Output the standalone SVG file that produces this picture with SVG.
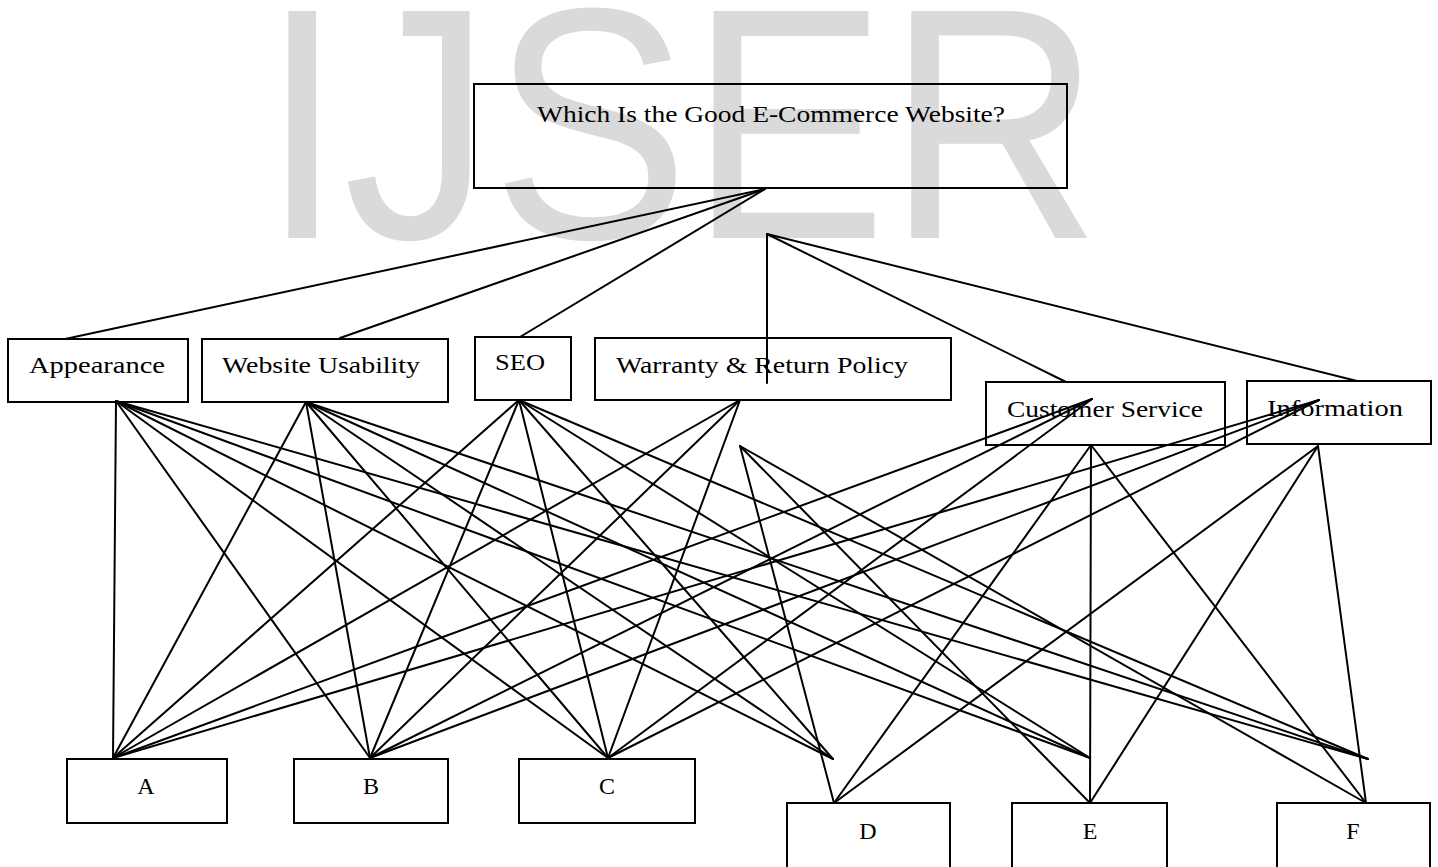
<svg xmlns="http://www.w3.org/2000/svg" width="1438" height="867" viewBox="0 0 1438 867">
<style>
.box{fill:none;stroke:#000;stroke-width:2}
.lbl{font-family:"Liberation Serif",serif;font-size:24px;fill:#000}
.ltr{font-family:"Liberation Serif",serif;font-size:24px;fill:#000;text-anchor:middle}
.wm{font-family:"Liberation Sans",Arial,sans-serif;font-size:330px;fill:#dadada}
#connectors line{stroke:#000;stroke-width:2;stroke-linecap:round}
</style>
<rect x="0" y="0" width="1438" height="867" fill="#fff"/>
<text class="wm" x="261" y="238" textLength="840" lengthAdjust="spacingAndGlyphs">IJSER</text>
<g id="connectors">
<line x1="765" y1="189" x2="65" y2="339"/>
<line x1="765" y1="189" x2="340" y2="338"/>
<line x1="765" y1="189" x2="520" y2="337"/>
<line x1="767" y1="234" x2="767" y2="383"/>
<line x1="767" y1="234" x2="1066" y2="382"/>
<line x1="767" y1="234" x2="1357" y2="381"/>
<line x1="116" y1="401" x2="113" y2="758"/>
<line x1="116" y1="401" x2="370" y2="758"/>
<line x1="116" y1="401" x2="608" y2="758"/>
<line x1="116" y1="401" x2="833" y2="759"/>
<line x1="116" y1="401" x2="1090" y2="758"/>
<line x1="116" y1="401" x2="1368" y2="759"/>
<line x1="306" y1="402" x2="113" y2="758"/>
<line x1="306" y1="402" x2="370" y2="758"/>
<line x1="306" y1="402" x2="608" y2="758"/>
<line x1="306" y1="402" x2="833" y2="759"/>
<line x1="306" y1="402" x2="1090" y2="758"/>
<line x1="306" y1="402" x2="1368" y2="759"/>
<line x1="519" y1="400" x2="113" y2="758"/>
<line x1="519" y1="400" x2="370" y2="758"/>
<line x1="519" y1="400" x2="608" y2="758"/>
<line x1="519" y1="400" x2="833" y2="759"/>
<line x1="519" y1="400" x2="1090" y2="758"/>
<line x1="519" y1="400" x2="1368" y2="759"/>
<line x1="740" y1="400" x2="113" y2="758"/>
<line x1="740" y1="400" x2="370" y2="758"/>
<line x1="740" y1="400" x2="608" y2="758"/>
<line x1="740" y1="446" x2="834" y2="803"/>
<line x1="740" y1="446" x2="1090" y2="803"/>
<line x1="740" y1="446" x2="1366" y2="803"/>
<line x1="1092" y1="399" x2="113" y2="758"/>
<line x1="1092" y1="399" x2="370" y2="758"/>
<line x1="1092" y1="399" x2="608" y2="758"/>
<line x1="1091" y1="445" x2="834" y2="803"/>
<line x1="1091" y1="445" x2="1090" y2="803"/>
<line x1="1091" y1="445" x2="1366" y2="803"/>
<line x1="1319" y1="400" x2="113" y2="758"/>
<line x1="1319" y1="400" x2="370" y2="758"/>
<line x1="1319" y1="400" x2="608" y2="758"/>
<line x1="1318" y1="446" x2="834" y2="803"/>
<line x1="1318" y1="446" x2="1090" y2="803"/>
<line x1="1318" y1="446" x2="1366" y2="803"/>
</g>
<g id="goal"><rect class="box" x="474" y="84" width="593" height="104"/><text class="lbl" x="537" y="122" textLength="468" lengthAdjust="spacingAndGlyphs">Which Is the Good E-Commerce Website?</text></g>
<g id="appearance"><rect class="box" x="8" y="339" width="180" height="63"/><text class="lbl" x="29" y="373" textLength="136" lengthAdjust="spacingAndGlyphs">Appearance</text></g>
<g id="usability"><rect class="box" x="202" y="339" width="246" height="63"/><text class="lbl" x="222" y="373" textLength="198" lengthAdjust="spacingAndGlyphs">Website Usability</text></g>
<g id="seo"><rect class="box" x="475" y="337" width="96" height="63"/><text class="lbl" x="495" y="370" textLength="50" lengthAdjust="spacingAndGlyphs">SEO</text></g>
<g id="warranty"><rect class="box" x="595" y="338" width="356" height="62"/><text class="lbl" x="616" y="373" textLength="292" lengthAdjust="spacingAndGlyphs">Warranty &amp; Return Policy</text></g>
<g id="customer"><rect class="box" x="986" y="382" width="239" height="63"/><text class="lbl" x="1007" y="417" textLength="196" lengthAdjust="spacingAndGlyphs">Customer Service</text></g>
<g id="information"><rect class="box" x="1247" y="381" width="184" height="63"/><text class="lbl" x="1267" y="416" textLength="136" lengthAdjust="spacingAndGlyphs">Information</text></g>
<g id="A"><rect class="box" x="67" y="759" width="160" height="64"/><text class="ltr" x="146" y="794">A</text></g>
<g id="B"><rect class="box" x="294" y="759" width="154" height="64"/><text class="ltr" x="371" y="794">B</text></g>
<g id="C"><rect class="box" x="519" y="759" width="176" height="64"/><text class="ltr" x="607" y="794">C</text></g>
<g id="D"><rect class="box" x="787" y="803" width="163" height="70"/><text class="ltr" x="868" y="839">D</text></g>
<g id="E"><rect class="box" x="1012" y="803" width="155" height="70"/><text class="ltr" x="1090" y="839">E</text></g>
<g id="F"><rect class="box" x="1277" y="803" width="153" height="70"/><text class="ltr" x="1353" y="839">F</text></g>
</svg>
